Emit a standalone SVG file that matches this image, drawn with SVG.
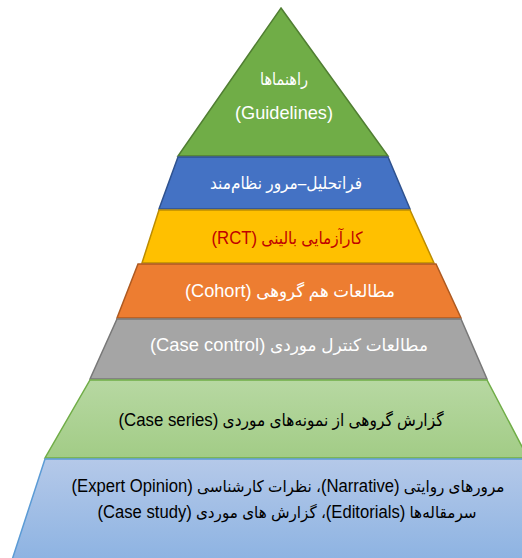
<svg xmlns="http://www.w3.org/2000/svg" width="522" height="558" viewBox="0 0 522 558">
<defs>
<linearGradient id="gLG" x1="0" y1="0" x2="0" y2="1"><stop offset="0" stop-color="#B7D8A2"/><stop offset="1" stop-color="#A2CC86"/></linearGradient>
<linearGradient id="gLB" x1="0" y1="0" x2="0" y2="1"><stop offset="0" stop-color="#B5C9E9"/><stop offset="1" stop-color="#8DB3E2"/></linearGradient>
</defs>
<style>
.t{font-family:"Liberation Sans","DejaVu Sans",sans-serif;font-size:17px;text-anchor:middle;direction:rtl;unicode-bidi:embed}
.l{font-size:18.5px}
.s{font-size:16px}
.sl{font-size:17.5px}
.w{fill:#FFFFFF}
.k{fill:#000000}
.r{fill:#C00000}
.band{stroke-width:1.5;stroke-linejoin:miter}
</style>
<rect width="522" height="558" fill="#FFFFFF"/>
<g id="level1">
<polygon class="band" points="281,8 388,156 178,156" fill="#70AD47" stroke="#507E32"/>
<text class="t w" x="284" y="85" textLength="48" lengthAdjust="spacingAndGlyphs">راهنماها</text>
<text class="t w l" x="284" y="119" style="direction:ltr" textLength="98" lengthAdjust="spacingAndGlyphs">(Guidelines)</text>
</g>
<g id="level2">
<polygon class="band" points="178,157 388,157 410,209 159,209" fill="#4472C4" stroke="#2F528F"/>
<text class="t w" x="286" y="189" textLength="152" lengthAdjust="spacingAndGlyphs">فراتحلیل–مرور نظام‌مند</text>
</g>
<g id="level3">
<polygon class="band" points="159,210 410,210 434,263 142,263" fill="#FFC000" stroke="#BC8C00"/>
<text class="t r" x="287" y="244" textLength="151" lengthAdjust="spacingAndGlyphs">کارآزمایی بالینی <tspan class="l">(RCT)</tspan></text>
</g>
<g id="level4">
<polygon class="band" points="138,264 436,264 461,318 117,318" fill="#ED7D31" stroke="#AE5A21"/>
<text class="t w" x="290" y="297" textLength="210" lengthAdjust="spacingAndGlyphs">مطالعات هم گروهی <tspan class="l">(Cohort)</tspan></text>
</g>
<g id="level5">
<polygon class="band" points="117,319 461,319 487,379 90,379" fill="#A5A5A5" stroke="#787878"/>
<text class="t w" x="289" y="351" textLength="278" lengthAdjust="spacingAndGlyphs">مطالعات کنترل موردی <tspan class="l">(Case control)</tspan></text>
</g>
<g id="level6">
<polygon class="band" points="90,380 487,380 528,458 45,458" fill="url(#gLG)" stroke="#70AD47"/>
<text class="t k" x="281" y="426" textLength="325" lengthAdjust="spacingAndGlyphs">گزارش گروهی از نمونه‌های موردی <tspan class="l">(Case series)</tspan></text>
</g>
<g id="level7">
<polygon class="band" points="45,459 532,459 578,560 12,560" fill="url(#gLB)" stroke="#5B9BD5"/>
<text class="t k s" x="288" y="492" textLength="433" lengthAdjust="spacingAndGlyphs">مرورهای روایتی <tspan class="sl">(Narrative)</tspan>، نظرات کارشناسی <tspan class="sl">(Expert Opinion)</tspan></text>
<text class="t k s" x="287" y="518" textLength="379" lengthAdjust="spacingAndGlyphs">سرمقاله‌ها <tspan class="sl">(Editorials)</tspan>، گزارش های موردی <tspan class="sl">(Case study)</tspan></text>
</g>
<g id="connectors"/>
</svg>
